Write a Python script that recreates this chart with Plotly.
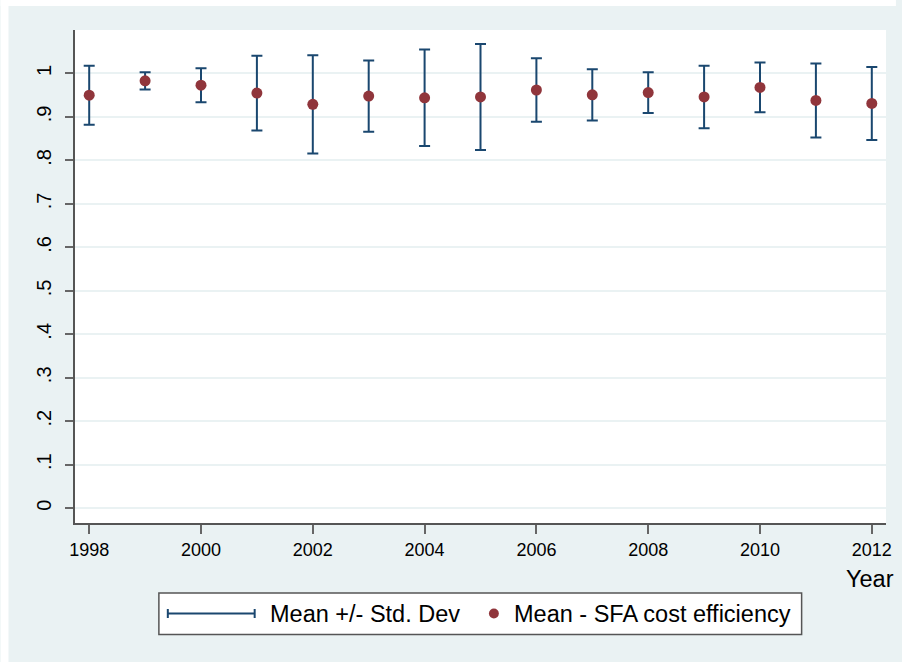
import plotly.graph_objects as go

# ---- data ----
years = [1998, 1999, 2000, 2001, 2002, 2003, 2004, 2005, 2006, 2007, 2008, 2009, 2010, 2011, 2012]
mean_eff = [0.950, 0.983, 0.973, 0.955, 0.929, 0.948, 0.944, 0.946, 0.962, 0.951, 0.956, 0.946, 0.968, 0.938, 0.931]
sd_eff = [0.068, 0.020, 0.039, 0.086, 0.113, 0.082, 0.111, 0.122, 0.073, 0.059, 0.047, 0.072, 0.057, 0.085, 0.084]

y_tickvals = [0, 0.1, 0.2, 0.3, 0.4, 0.5, 0.6, 0.7, 0.8, 0.9, 1.0]
y_ticktext = ["0", ".1", ".2", ".3", ".4", ".5", ".6", ".7", ".8", ".9", "1"]
x_tickvals = [1998, 2000, 2002, 2004, 2006, 2008, 2010, 2012]

legend_labels = ["Mean +/- Std. Dev", "Mean - SFA cost efficiency"]

NAVY = "#1A476F"
MAROON = "#90353B"
BG = "#EAF2F3"
FONT = "Liberation Sans, Arial, sans-serif"

W_FIG, H_FIG = 902, 662
L, R, T, B = 75, 10, 30, 139
PW = W_FIG - L - R
PH = H_FIG - T - B


def px(x):
    return (x - L) / PW


def py(y):
    return (H_FIG - B - y) / PH


fig = go.Figure()

# error bars (mean +/- sd)
fig.add_trace(go.Scatter(
    x=years, y=mean_eff, mode="markers",
    marker=dict(size=1, color="rgba(0,0,0,0)"),
    error_y=dict(type="data", array=sd_eff, visible=True, color=NAVY, thickness=2, width=5.5),
    name=legend_labels[0], showlegend=False, hoverinfo="skip",
))

# means
fig.add_trace(go.Scatter(
    x=years, y=mean_eff, mode="markers",
    marker=dict(size=11, color=MAROON),
    name=legend_labels[1], showlegend=False,
))

shapes = []
# white strips at top and left (outside the graph region)
shapes.append(dict(type="rect", xref="paper", yref="paper",
                   x0=px(0), x1=px(W_FIG), y0=py(6), y1=py(0),
                   fillcolor="white", line=dict(width=0), layer="above"))
shapes.append(dict(type="rect", xref="paper", yref="paper",
                   x0=px(0), x1=px(8), y0=py(H_FIG), y1=py(0),
                   fillcolor="white", line=dict(width=0), layer="above"))

# legend box
shapes.append(dict(type="rect", xref="paper", yref="paper",
                   x0=px(159.5), x1=px(807), y0=py(634.5), y1=py(593),
                   fillcolor="white", line=dict(color="#555555", width=1.5), layer="above"))
# legend error-bar symbol
ly = 613.5
shapes.append(dict(type="line", xref="paper", yref="paper",
                   x0=px(168.5), x1=px(256), y0=py(ly), y1=py(ly),
                   line=dict(color=NAVY, width=2), layer="above"))
for xx in (168.5, 256):
    shapes.append(dict(type="line", xref="paper", yref="paper",
                       x0=px(xx), x1=px(xx), y0=py(ly - 4.5), y1=py(ly + 4.5),
                       line=dict(color=NAVY, width=2), layer="above"))
# legend marker symbol
shapes.append(dict(type="circle", xref="paper", yref="paper",
                   x0=px(492), x1=px(502), y0=py(ly + 5), y1=py(ly - 5),
                   fillcolor=MAROON, line=dict(width=0), layer="above"))

annotations = [
    dict(text=legend_labels[0], xref="paper", yref="paper", x=px(269), y=py(ly),
         xanchor="left", yanchor="middle", showarrow=False,
         font=dict(family=FONT, size=23.5, color="black")),
    dict(text=legend_labels[1], xref="paper", yref="paper", x=px(515), y=py(ly),
         xanchor="left", yanchor="middle", showarrow=False,
         font=dict(family=FONT, size=23.5, color="black")),
    dict(text="Year", xref="paper", yref="paper", x=px(902), y=py(579),
         xanchor="right", yanchor="middle", showarrow=False,
         font=dict(family=FONT, size=23.5, color="black")),
]

fig.update_layout(
    width=W_FIG, height=H_FIG,
    margin=dict(l=L, r=R, t=T, b=B, pad=0),
    paper_bgcolor=BG, plot_bgcolor="white",
    font=dict(family=FONT, size=18, color="black"),
    showlegend=False,
    shapes=shapes, annotations=annotations,
    xaxis=dict(
        range=[1997.746, 2012.254], tickvals=x_tickvals,
        ticktext=[str(v) for v in x_tickvals],
        showgrid=False, zeroline=False,
        showline=True, linecolor="#555555", linewidth=1.5,
        ticks="outside", ticklen=9, tickwidth=1.5, tickcolor="#666666",
        tickfont=dict(family=FONT, size=18, color="black"),
        ticklabelstandoff=1,
    ),
    yaxis=dict(
        range=[-0.034, 1.1], tickvals=y_tickvals, ticktext=y_ticktext,
        showgrid=True, gridcolor=BG, gridwidth=1.7, zeroline=False,
        showline=True, linecolor="#555555", linewidth=1.5,
        ticks="outside", ticklen=8, tickwidth=1.5, tickcolor="#666666",
        tickangle=-90,
        tickfont=dict(family=FONT, size=20, color="black"),
        ticklabelstandoff=6,
    ),
)

fig.write_html("out.html")
